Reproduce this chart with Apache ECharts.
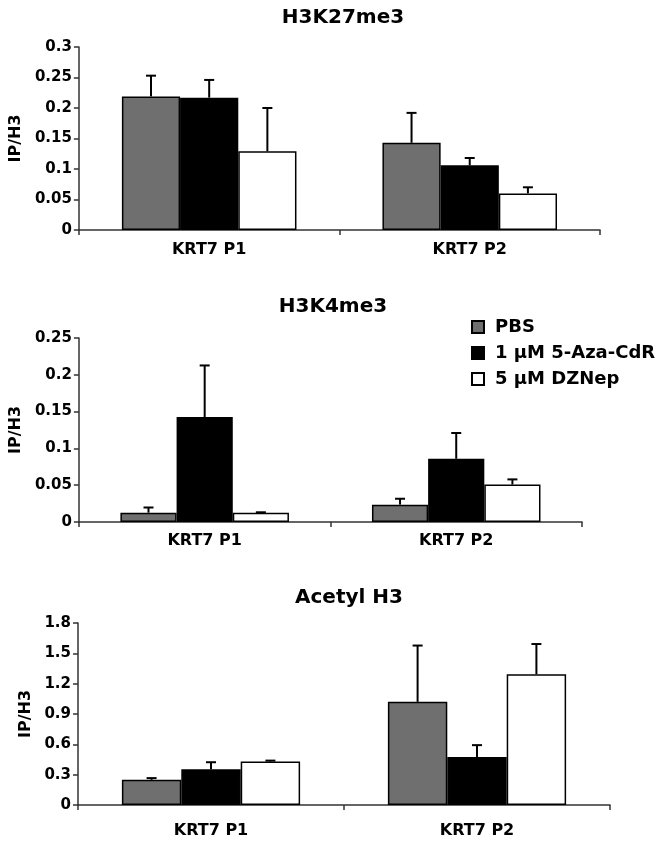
<!DOCTYPE html>
<html><head><meta charset="utf-8">
<script src="https://cdn.jsdelivr.net/npm/echarts@6/dist/echarts.min.js"></script>
<style>html,body{margin:0;padding:0;background:#fff}#c{width:664px;height:846px}</style>
</head><body><div id="c"></div>
<script>
const categories = ['KRT7 P1', 'KRT7 P2'];
const seriesNames = ['PBS', '1 μM 5-Aza-CdR', '5 μM DZNep'];
const panelTitles = ['H3K27me3', 'H3K4me3', 'Acetyl H3'];
const yMax = [0.3, 0.25, 1.8];
const yInterval = [0.05, 0.05, 0.3];

// H3K27me3
const k27_pbs = [0.219, 0.143];
const k27_aza = [0.217, 0.106];
const k27_dzn = [0.129, 0.060];
const k27_pbs_err = [0.034, 0.049];
const k27_aza_err = [0.029, 0.012];
const k27_dzn_err = [0.071, 0.010];
// H3K4me3
const k4_pbs = [0.0127, 0.0236];
const k4_aza = [0.1427, 0.0859];
const k4_dzn = [0.0127, 0.0509];
const k4_pbs_err = [0.007, 0.008];
const k4_aza_err = [0.070, 0.035];
const k4_dzn_err = [0.0005, 0.007];
// Acetyl H3
const ac_pbs = [0.249, 1.02];
const ac_aza = [0.354, 0.474];
const ac_dzn = [0.43, 1.293];
const ac_pbs_err = [0.017, 0.557];
const ac_aza_err = [0.069, 0.118];
const ac_dzn_err = [0.009, 0.299];

const panels = [
  {vals: [k27_pbs, k27_aza, k27_dzn], errs: [k27_pbs_err, k27_aza_err, k27_dzn_err]},
  {vals: [k4_pbs, k4_aza, k4_dzn], errs: [k4_pbs_err, k4_aza_err, k4_dzn_err]},
  {vals: [ac_pbs, ac_aza, ac_dzn], errs: [ac_pbs_err, ac_aza_err, ac_dzn_err]}
];

const FONT = 'DejaVu Sans';
const colors = ['#6f6f6f', '#000000', '#ffffff'];
const GAP = 0.33;
const grids = [
  {left: 76, width: 524, top: 47, height: 183},
  {left: 74, width: 508, top: 338, height: 184},
  {left: 78, width: 532, top: 623, height: 182}
];
const titleTops = [3, 292, 583];
const nameGaps = [50, 49, 44];
const xLabelMargins = [12, 11, 18];

const option = {
  animation: false,
  backgroundColor: '#fff',
  title: panelTitles.map((t, i) => ({
    text: t, left: grids[i].left + grids[i].width / 2, textAlign: 'center', top: titleTops[i],
    textStyle: {fontFamily: FONT, fontWeight: 'bold', fontSize: 20, color: '#000'}
  })),
  legend: {
    data: seriesNames, orient: 'vertical', left: 471, top: 318, padding: 0,
    itemWidth: 12, itemHeight: 12, itemGap: 8,
    icon: 'rect',
    textStyle: {fontFamily: FONT, fontWeight: 'bold', fontSize: 18, color: '#000', lineHeight: 18, padding: [0, 0, 0, 6]}
  },
  grid: grids,
  xAxis: grids.map((g, i) => ({
    type: 'category', gridIndex: i, data: categories,
    axisLine: {lineStyle: {color: '#333', width: 1.5}},
    axisTick: {show: true, length: 5, lineStyle: {color: '#333', width: 1.5}},
    axisLabel: {fontFamily: FONT, fontWeight: 'bold', fontSize: 16, color: '#000', margin: xLabelMargins[i]}
  })),
  yAxis: grids.map((g, i) => ({
    type: 'value', gridIndex: i, min: 0, max: yMax[i], interval: yInterval[i],
    name: 'IP/H3', nameLocation: 'middle', nameGap: nameGaps[i], nameRotate: 90,
    nameTextStyle: {fontFamily: FONT, fontWeight: 'bold', fontSize: 16, color: '#000'},
    splitLine: {show: false},
    axisLine: {show: true, lineStyle: {color: '#333', width: 1.5}},
    axisTick: {show: true, length: 5, lineStyle: {color: '#333', width: 1.5}},
    axisLabel: {fontFamily: FONT, fontWeight: 'bold', fontSize: 15, color: '#000', margin: 7}
  })),
  series: []
};

panels.forEach((p, gi) => {
  p.vals.forEach((v, si) => {
    option.series.push({
      type: 'bar', name: seriesNames[si], xAxisIndex: gi, yAxisIndex: gi, data: v,
      barGap: '0%', barCategoryGap: (GAP * 100) + '%',
      itemStyle: {color: colors[si], borderColor: '#000', borderWidth: 1.5},
      z: 2
    });
  });
  const errData = [];
  p.vals.forEach((v, si) => v.forEach((val, ci) => errData.push([ci, si, val, p.errs[si][ci]])));
  option.series.push({
    type: 'custom', xAxisIndex: gi, yAxisIndex: gi, data: errData, z: 5,
    encode: {x: 0, y: 2},
    renderItem: function (params, api) {
      const ci = api.value(0), si = api.value(1), v = api.value(2), e = api.value(3);
      const base = api.coord([ci, v]);
      const top = api.coord([ci, v + e]);
      const cw = api.size([1, 0])[0];
      const bw = cw * (1 - GAP) / 3;
      const x = base[0] + (si - 1) * bw;
      const st = {stroke: '#000', lineWidth: 2};
      return {type: 'group', children: [
        {type: 'line', shape: {x1: x, y1: base[1], x2: x, y2: top[1]}, style: st},
        {type: 'line', shape: {x1: x - 5, y1: top[1], x2: x + 5, y2: top[1]}, style: st}
      ]};
    }
  });
});

const chart = echarts.init(document.getElementById('c'), null, {renderer: 'canvas'});
chart.setOption(option);
</script></body></html>
